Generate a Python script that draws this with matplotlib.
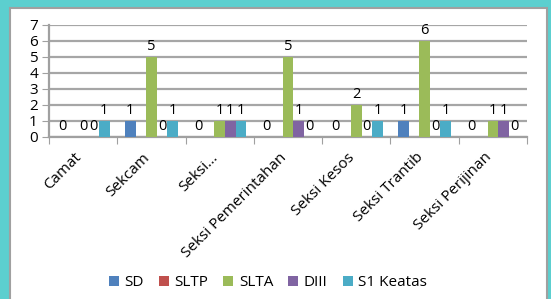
import numpy as np
import matplotlib
matplotlib.use("Agg")
import matplotlib.pyplot as plt
import matplotlib.transforms as mtransforms
from matplotlib.patches import Rectangle

plt.rcParams['font.family'] = ['Open Sans', 'DejaVu Sans']

categories = ["Camat", "Sekcam", "Seksi...", "Seksi Pemerintahan",
              "Seksi Kesos", "Seksi Trantib", "Seksi Perijinan"]
series_names = ["SD", "SLTP", "SLTA", "DIII", "S1 Keatas"]
nan = np.nan
sd = [0, 1, 0, 0, 0, 1, 0]
sltp = [nan, nan, nan, nan, nan, nan, nan]
slta = [0, 5, 1, 5, 2, 6, 1]
diii = [0, 0, 1, 1, 0, 0, 1]
s1 = [1, 1, 1, 0, 1, 1, 0]
colors = ["#4f81bd", "#c0504d", "#9bbb59", "#8064a2", "#4bacc6"]

fig = plt.figure(figsize=(5.51, 2.99), dpi=100)
fig.patch.set_facecolor("#5ccfcf")

# white chart area with grey frame
W, H = 551.0, 299.0
fig.patches.append(Rectangle((10 / W, -0.05), 537 / W, 1 - 8 / H + 0.05,
                             transform=fig.transFigure, facecolor="white",
                             edgecolor="#a0a0a0", linewidth=1.5, zorder=-10))

ax = fig.add_axes([49 / W, 1 - 137 / H, (527 - 49) / W, (137 - 25) / H])
ax.set_facecolor("none")

x = np.arange(len(categories))
width = 0.155
all_series = [sd, sltp, slta, diii, s1]
for i, (name, vals, c) in enumerate(zip(series_names, all_series, colors)):
    bars = ax.bar(x + (i - 2) * width, vals, width, color=c, label=name,
                  zorder=3)
    ax.bar_label(bars, padding=2, fontsize=10.5, color="black")

ax.set_ylim(0, 7)
ax.set_yticks(range(0, 8))
ax.set_xlim(-0.5, len(categories) - 0.5)
ax.yaxis.grid(True, color="#a6a6a6", linewidth=1.6, zorder=0)
ax.set_axisbelow(True)

ax.set_xticks(np.arange(len(categories) + 1) - 0.5)
ax.set_xticklabels([])
ax.set_xticks(x, minor=True)
ax.set_xticklabels(categories, minor=True, rotation=45, ha="right",
                   rotation_mode="anchor", fontsize=11)
ax.tick_params(axis="x", which="minor", length=0, pad=8)
ax.tick_params(axis="x", which="major", length=5, color="#a0a0a0")
ax.tick_params(axis="y", length=5, color="#a0a0a0", labelsize=11, pad=3)

# nudge the rotated labels left a little, as in the original
shift = mtransforms.ScaledTranslation(-9 / 100, -2 / 100, fig.dpi_scale_trans)
for lbl in ax.get_xticklabels(minor=True):
    lbl.set_transform(lbl.get_transform() + shift)

for s in ["top", "right"]:
    ax.spines[s].set_visible(False)
for s in ["left", "bottom"]:
    ax.spines[s].set_color("#a0a0a0")
    ax.spines[s].set_linewidth(1.6)

fig.legend(loc="center", bbox_to_anchor=(268 / W, 1 - 283 / H), ncol=5,
           frameon=False, fontsize=11, handlelength=0.65, handleheight=0.65,
           columnspacing=1.0, handletextpad=0.35)

fig.savefig("out.png", dpi=100, facecolor=fig.get_facecolor())
